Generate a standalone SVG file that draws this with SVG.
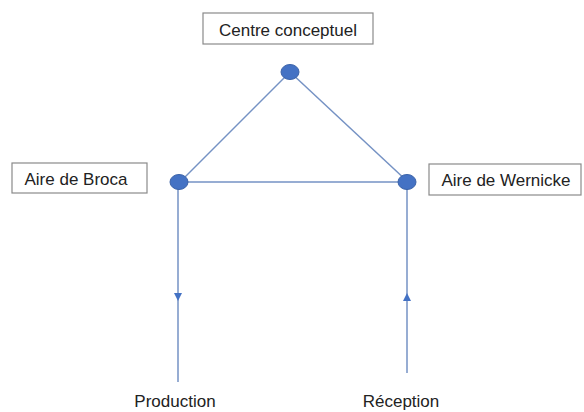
<svg xmlns="http://www.w3.org/2000/svg" width="584" height="412" viewBox="0 0 584 412">
<style>
.box{fill:#fff;stroke:#8a8a8a;stroke-width:1.2}
.lbl{font-family:"Liberation Sans",Arial,sans-serif;font-size:17px;fill:#222}
.ln{stroke:#7592c4;stroke-width:1.5;fill:none}
.dot{fill:#4472c4;stroke:#3a62a8;stroke-width:1}
.ah{fill:#4472c4}
</style>
<rect width="584" height="412" fill="#fff"/>
<g id="connectors">
<line class="ln" x1="290" y1="72" x2="180" y2="182"/>
<line class="ln" x1="290" y1="72" x2="408" y2="182"/>
<line class="ln" x1="180" y1="182" x2="408" y2="182"/>
<line class="ln" x1="178" y1="182" x2="178" y2="382"/>
<line class="ln" x1="407" y1="182" x2="407" y2="373"/>
<polygon class="ah" points="174,293 182,293 178,301"/>
<polygon class="ah" points="403,301 411,301 407,293"/>
</g>
<g id="centre">
<rect class="box" x="203" y="13" width="170" height="31"/>
<text class="lbl" x="288" y="36" text-anchor="middle">Centre conceptuel</text>
</g>
<g id="top-node"><ellipse class="dot" cx="290" cy="72" rx="9" ry="7.5"/></g>
<g id="broca">
<rect class="box" x="12" y="163" width="135" height="30"/>
<text class="lbl" x="76" y="185" text-anchor="middle">Aire de Broca</text>
</g>
<g id="broca-node"><ellipse class="dot" cx="179" cy="182" rx="9" ry="7.5"/></g>
<g id="wernicke">
<rect class="box" x="429" y="164" width="152" height="31"/>
<text class="lbl" x="506" y="186" text-anchor="middle">Aire de Wernicke</text>
</g>
<g id="wernicke-node"><ellipse class="dot" cx="407" cy="182" rx="9" ry="7.5"/></g>
<g id="production"><text class="lbl" x="175" y="407" text-anchor="middle">Production</text></g>
<g id="reception"><text class="lbl" x="401" y="407" text-anchor="middle">Réception</text></g>
</svg>
